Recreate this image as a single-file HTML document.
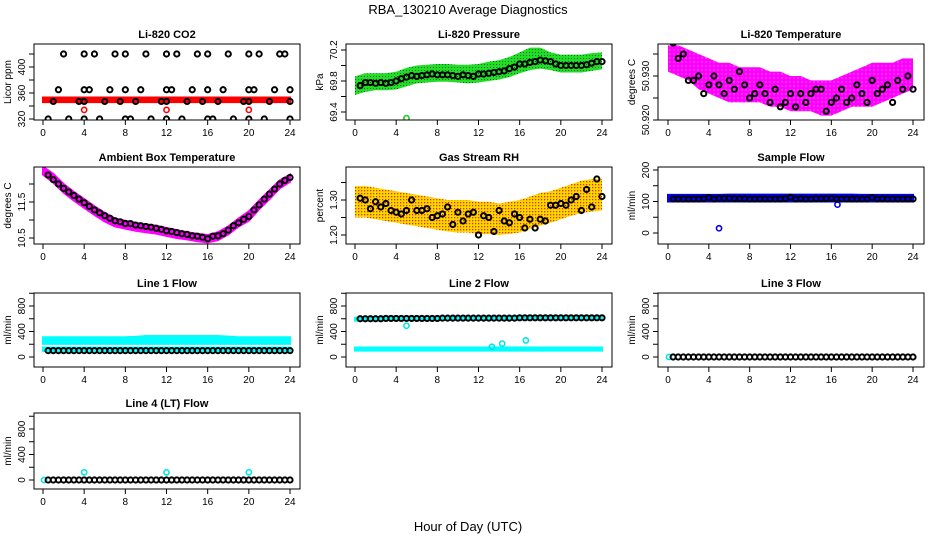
<!DOCTYPE html>
<html><head><meta charset="utf-8"><style>
html,body{margin:0;padding:0;background:#fff}
svg{display:block;font-family:"Liberation Sans",sans-serif}
</style></head><body>
<svg id="c" width="936" height="540" viewBox="0 0 936 540" xmlns="http://www.w3.org/2000/svg">
<defs>
<pattern id="pg" width="3" height="3" patternUnits="userSpaceOnUse"><rect width="3" height="3" fill="#22dd22"/><rect x="1" y="1" width="1" height="1" fill="#063"/></pattern>
<pattern id="po" width="3" height="3" patternUnits="userSpaceOnUse"><rect width="3" height="3" fill="#ffd800"/><rect x="1" y="1" width="1.3" height="1.3" fill="#e03000"/></pattern>
<pattern id="pm" width="4" height="4" patternUnits="userSpaceOnUse"><rect width="4" height="4" fill="#ff00ff"/><rect x="1.5" y="1.5" width="1" height="1" fill="#ffb0ff"/></pattern>
</defs>
<text x="468" y="14" text-anchor="middle" font-size="13">RBA_130210  Average Diagnostics</text>
<text x="468" y="531" text-anchor="middle" font-size="13">Hour of Day (UTC)</text>
</svg>
<script>
const hours=[0.5,1,1.5,2,2.5,3,3.5,4,4.5,5,5.5,6,6.5,7,7.5,8,8.5,9,9.5,10,10.5,11,11.5,12,12.5,13,13.5,14,14.5,15,15.5,16,16.5,17,17.5,18,18.5,19,19.5,20,20.5,21,21.5,22,22.5,23,23.5,24];
const bandHours=[0,1,2,3,4,5,6,7,8,9,10,11,12,13,14,15,16,17,18,19,20,21,22,23,24];
const xTicks=[0,4,8,12,16,20,24];
// CO2
const co2Hours=[2,4,5,7,8,10,12,13,15,16,18,20,21,23,23.5, 1.5,4,4.5,6.5,8,9.5,12,12.5,14.5,16,17.5,20,20.5,22.5,24, 0.5,2.5,4,5.5,8,8.5,10.5,12,13.5,16,16.5,18.5,20,21.5,24, 1,3.5,4,6,7.5,9,11.5,12,14,15.5,17,19.5,20,22,24];
const co2Vals=[420,420,420,420,420,420,420,420,420,420,420,420,420,420,420, 365,365,365,365,365,365,365,365,365,365,365,365,365,365,365, 320,320,320,320,320,320,320,320,320,320,320,320,320,320,320, 347,347,347,347,347,347,347,347,347,347,347,347,347,347,347];
const co2BandLow=[346,346,346,346,346,346,346,346,346,346,346,346,346,346,346,346,346,346,346,346,346,346,346,346,346];
const co2BandHigh=[353,353,353,353,353,353,353,353,353,353,353,353,353,353,353,353,353,353,353,353,353,353,353,353,353];
const co2RedHours=[4,12,20];
const co2RedVals=[334,334,334];
// Pressure
const presVals=[69.74,69.78,69.78,69.77,69.78,69.77,69.78,69.80,69.83,69.85,69.87,69.86,69.87,69.88,69.89,69.88,69.88,69.88,69.87,69.86,69.88,69.87,69.86,69.89,69.89,69.90,69.91,69.92,69.93,69.96,69.98,70.02,70.02,70.04,70.05,70.07,70.06,70.05,70.02,70.00,70.00,70.00,70.00,70.00,70.01,70.03,70.05,70.05];
const presLow=[69.62,69.66,69.68,69.68,69.69,69.73,69.77,69.78,69.79,69.79,69.78,69.77,69.78,69.80,69.82,69.85,69.90,69.94,69.96,69.94,69.91,69.91,69.91,69.93,69.95];
const presHigh=[69.86,69.90,69.90,69.90,69.92,69.97,70.00,70.01,70.02,70.02,70.01,70.01,70.02,70.05,70.07,70.11,70.17,70.23,70.23,70.17,70.14,70.14,70.14,70.16,70.17];
const presOutHours=[5];
const presOutVals=[69.32];
// Li-820 temperature
const tempVals=[50.9375,50.934,50.935,50.929,50.929,50.930,50.926,50.928,50.930,50.928,50.926,50.929,50.927,50.931,50.928,50.925,50.926,50.928,50.926,50.924,50.927,50.923,50.924,50.926,50.923,50.926,50.924,50.926,50.927,50.927,50.922,50.924,50.925,50.927,50.924,50.925,50.928,50.926,50.924,50.929,50.926,50.927,50.928,50.924,50.929,50.927,50.930,50.927];
const tempLow=[50.931,50.930,50.929,50.927,50.926,50.925,50.924,50.924,50.924,50.924,50.923,50.923,50.922,50.922,50.922,50.921,50.921,50.922,50.923,50.923,50.923,50.924,50.925,50.926,50.927];
const tempHigh=[50.937,50.937,50.936,50.935,50.934,50.933,50.933,50.932,50.932,50.932,50.931,50.931,50.930,50.930,50.929,50.929,50.929,50.930,50.931,50.932,50.933,50.933,50.933,50.934,50.934];
// Ambient box temperature
const ambVals=[12.25,12.12,12.0,11.88,11.78,11.68,11.58,11.48,11.38,11.28,11.2,11.12,11.05,10.98,10.95,10.9,10.9,10.86,10.84,10.82,10.8,10.77,10.74,10.7,10.68,10.65,10.62,10.6,10.56,10.55,10.52,10.48,10.55,10.56,10.62,10.72,10.84,10.92,11.02,11.1,11.28,11.42,11.58,11.72,11.86,12.0,12.1,12.18];
const ambLow=[12.26,12.04,11.76,11.54,11.34,11.14,10.96,10.82,10.76,10.70,10.66,10.62,10.56,10.50,10.46,10.41,10.38,10.44,10.60,10.82,10.98,11.30,11.58,11.88,12.06];
const ambHigh=[12.48,12.28,12.00,11.78,11.58,11.38,11.20,11.04,10.98,10.92,10.88,10.84,10.78,10.72,10.66,10.62,10.58,10.66,10.82,11.04,11.24,11.54,11.82,12.10,12.26];
// Gas stream RH
const rhVals=[1.305,1.300,1.275,1.295,1.280,1.290,1.270,1.265,1.260,1.270,1.300,1.270,1.270,1.275,1.250,1.255,1.260,1.280,1.230,1.265,1.240,1.260,1.265,1.200,1.255,1.250,1.210,1.270,1.240,1.235,1.260,1.250,1.220,1.245,1.220,1.245,1.240,1.285,1.285,1.290,1.285,1.300,1.310,1.270,1.330,1.280,1.360,1.310];
const rhLow=[1.250,1.250,1.245,1.240,1.235,1.230,1.225,1.220,1.215,1.210,1.207,1.207,1.203,1.203,1.200,1.203,1.207,1.217,1.227,1.235,1.245,1.255,1.263,1.267,1.270];
const rhHigh=[1.340,1.340,1.335,1.330,1.325,1.320,1.315,1.310,1.305,1.300,1.300,1.300,1.295,1.295,1.290,1.295,1.300,1.310,1.320,1.325,1.335,1.345,1.355,1.360,1.360];
// Sample flow
const sampVals=[108,108,108,108,108,108,109,112,108,110,110,110,109,109,109,108,108,108,108,108,108,108,109,113,108,109,108,108,109,109,109,110,108,108,108,108,108,108,108,112,108,109,108,108,108,108,108,108];
const sampLow=[100,100,100,100,100,100,100,100,100,100,100,100,100,100,100,100,100,100,100,100,100,100,100,100,100];
const sampHigh=[121,121,121,121,121,121,122,122,122,122,122,122,122,122,122,122,122,122,122,121,121,121,121,121,121];
const sampOutHours=[5,16.6];
const sampOutVals=[15,90];
// Line 1
const l1Vals=[100,100,100,100,100,100,100,100,100,100,100,100,100,100,100,100,100,100,100,100,100,100,100,100,100,100,100,100,100,100,100,100,100,100,100,100,100,100,100,100,100,100,100,100,100,100,100,100];
const l1HiLow=[205,205,205,205,205,205,205,205,205,205,205,205,205,205,205,205,205,205,205,205,205,205,205,205,205];
const l1HiHigh=[310,310,310,310,310,310,310,310,310,315,330,330,330,330,330,330,330,330,320,310,310,310,310,310,310];
const l1LoLow=[95,95,95,95,95,95,95,95,95,95,95,95,95,95,95,95,95,95,95,95,95,95,95,95,95];
const l1LoHigh=[150,150,150,150,150,150,150,150,150,150,150,150,150,150,150,150,150,150,150,150,150,150,150,150,150];
// Line 2
const l2Vals=[600,600,600,600,600,605,605,605,605,605,605,605,605,605,605,605,610,610,610,610,610,610,610,610,610,610,610,610,610,610,610,615,615,615,615,615,615,615,615,615,615,615,615,615,615,615,615,615];
const l2HiLow=[570,575,580,580,580,585,585,585,585,585,590,590,590,590,590,590,595,595,595,595,595,595,595,595,595];
const l2HiHigh=[615,620,625,625,625,630,630,630,630,630,635,635,635,635,635,640,640,640,640,640,640,640,640,640,640];
const l2LoLow=[100,100,100,100,100,100,100,100,100,100,100,100,100,100,100,100,100,100,100,100,100,100,100,100,100];
const l2LoHigh=[150,150,150,150,150,150,150,150,150,150,150,150,150,150,150,150,150,150,150,150,150,150,150,150,150];
const l2OutHours=[5,13.3,14.3,16.6];
const l2OutVals=[490,160,210,260];
// Line 3 & 4
const l3Vals=[0,0,0,0,0,0,0,0,0,0,0,0,0,0,0,0,0,0,0,0,0,0,0,0,0,0,0,0,0,0,0,0,0,0,0,0,0,0,0,0,0,0,0,0,0,0,0,0];
const l4Vals=[0,0,0,0,0,0,0,0,0,0,0,0,0,0,0,0,0,0,0,0,0,0,0,0,0,0,0,0,0,0,0,0,0,0,0,0,0,0,0,0,0,0,0,0,0,0,0,0];
const l4OutHours=[4,12,20];
const l4OutVals=[120,120,120];

const NS='http://www.w3.org/2000/svg';
const svg=document.getElementById('c');
const colL=[34,346,658],colR=[300,612,924],colX0=[43,355,668],colX24=[290,602,913];
const rowT=[44,167,293,413],rowB=[120,244,367,489];
function mk(tag,attrs,parent){const e=document.createElementNS(NS,tag);for(const k in attrs)e.setAttribute(k,attrs[k]);(parent||svg).appendChild(e);return e;}

function panel(o){
  const g=mk('g',{});
  
  
  const L=colL[o.c],R=colR[o.c],T=rowT[o.r],B=rowB[o.r];
  const xs=h=>colX0[o.c]+(colX24[o.c]-colX0[o.c])*h/24;
  const ys=v=>o.p1+(v-o.v1)*(o.p2-o.p1)/(o.v2-o.v1);
  const clipId='clip'+o.r+o.c;
  const cp=mk('clipPath',{id:clipId},g);mk('rect',{x:L,y:T,width:R-L,height:B-T},cp);
  const plot=mk('g',{'clip-path':'url(#'+clipId+')'},g);
  
  
  const t=mk('text',{x:(L+R)/2,y:T-6,'text-anchor':'middle','font-size':11,'font-weight':'bold'},g);
  t.textContent=o.title;
  
  
  const box=mk('rect',{x:L,y:T,width:R-L,height:B-T,fill:'none',stroke:'#000','stroke-width':1},g);
  
  
  xTicks.forEach(h=>{
    mk('line',{x1:xs(h),x2:xs(h),y1:B,y2:B+5,stroke:'#000'},g);
    const tl=mk('text',{x:xs(h),y:B+16,'text-anchor':'middle','font-size':10},g);
    tl.textContent=h;
    
    
  });
  o.yticks.forEach(v=>{
    const y=ys(v);
    mk('line',{x1:L-5,x2:L,y1:y,y2:y,stroke:'#000'},g);
  });
  o.ylabels.forEach(v=>{
    const y=ys(v);
    const tl=mk('text',{x:L-9,y:y,'text-anchor':'middle','font-size':10,transform:'rotate(-90 '+(L-9)+' '+y+')'},g);
    tl.textContent=(o.fmt?o.fmt(v):v);
    
    
  });
  const yl=mk('text',{x:L-23,y:(T+B)/2,'text-anchor':'middle','font-size':10,transform:'rotate(-90 '+(L-23)+' '+((T+B)/2)+')'},g);
  yl.textContent=o.ylab;
  
  
  return {xs,ys,plot};
}
function band(P,hs,lo,hi,fill,name){
  let d='';
  hs.forEach((h,i)=>{d+=(i?'L':'M')+P.xs(h)+' '+P.ys(hi[i]);});
  for(let i=hs.length-1;i>=0;i--)d+='L'+P.xs(hs[i])+' '+P.ys(lo[i]);
  const p=mk('path',{d:d+'Z',fill:fill,stroke:fill.startsWith('url')?'none':fill,'stroke-width':2},P.plot);
  
  
}
function pts(P,hs,vs,color,name,r){
  const n=Math.min(hs.length,vs.length);
  for(let i=0;i<n;i++){
    const c=mk('circle',{cx:P.xs(hs[i]),cy:P.ys(vs[i]),r:r||2.6,fill:'none',stroke:color,'stroke-width':color==='#000'?2:1.6},P.plot);
    
    
  }
}
const f3=v=>v.toFixed(3), f1=v=>v.toFixed(1), f2=v=>v.toFixed(2);

let P=panel({name:'panel-co2',r:0,c:0,title:'Li-820 CO2',ylab:'Licor ppm',v1:320,p1:119,v2:400,p2:67,yticks:[320,340,360,380,400,420],ylabels:[320,360,400]});
band(P,bandHours,co2BandLow,co2BandHigh,'#ff0000','co2-band');
pts(P,co2RedHours,co2RedVals,'#ff0000','co2-red-point');
pts(P,co2Hours,co2Vals,'#000','co2-point');

P=panel({name:'panel-pressure',r:0,c:1,title:'Li-820 Pressure',ylab:'kPa',v1:69.4,p1:112,v2:70.2,p2:50,yticks:[69.4,69.6,69.8,70.0,70.2],ylabels:[69.4,69.8,70.2],fmt:f1});
band(P,bandHours,presLow,presHigh,'url(#pg)','pressure-band');
pts(P,presOutHours,presOutVals,'#22cc22','pressure-outlier');
pts(P,hours,presVals,'#000','pressure-point');

P=panel({name:'panel-li820-temperature',r:0,c:2,title:'Li-820 Temperature',ylab:'degrees C',v1:50.920,p1:120,v2:50.930,p2:76,yticks:[50.920,50.925,50.930,50.935],ylabels:[50.920,50.930],fmt:f3});
band(P,bandHours,tempLow,tempHigh,'url(#pm)','temperature-band');
pts(P,hours,tempVals,'#000','temperature-point');

P=panel({name:'panel-ambient-temperature',r:1,c:0,title:'Ambient Box Temperature',ylab:'degrees C',v1:10.5,p1:238,v2:11.5,p2:202,yticks:[10.5,11.0,11.5,12.0],ylabels:[10.5,11.5],fmt:f1});
band(P,bandHours,ambLow,ambHigh,'#ff00ff','ambient-band');
pts(P,hours,ambVals,'#000','ambient-point');

P=panel({name:'panel-gas-rh',r:1,c:1,title:'Gas Stream RH',ylab:'percent',v1:1.20,p1:235,v2:1.30,p2:200,yticks:[1.20,1.25,1.30,1.35],ylabels:[1.20,1.30],fmt:f2});
band(P,bandHours,rhLow,rhHigh,'url(#po)','rh-band');
pts(P,hours,rhVals,'#000','rh-point');

P=panel({name:'panel-sample-flow',r:1,c:2,title:'Sample Flow',ylab:'ml/min',v1:0,p1:233,v2:200,p2:170,yticks:[0,50,100,150,200],ylabels:[0,100,200]});
band(P,bandHours,sampLow,sampHigh,'#0000ee','sample-band');
pts(P,sampOutHours,sampOutVals,'#0000ee','sample-outlier');
pts(P,hours,sampVals,'#000','sample-point');

P=panel({name:'panel-line1-flow',r:2,c:0,title:'Line 1 Flow',ylab:'ml/min',v1:0,p1:357,v2:800,p2:306,yticks:[0,200,400,600,800,1000],ylabels:[0,400,800]});
band(P,bandHours,l1HiLow,l1HiHigh,'#00ffff','line1-high-band');
band(P,bandHours,l1LoLow,l1LoHigh,'#00ffff','line1-low-band');
pts(P,hours,l1Vals,'#000','line1-point');

P=panel({name:'panel-line2-flow',r:2,c:1,title:'Line 2 Flow',ylab:'ml/min',v1:0,p1:357,v2:800,p2:306,yticks:[0,200,400,600,800,1000],ylabels:[0,400,800]});
band(P,bandHours,l2HiLow,l2HiHigh,'#00ffff','line2-high-band');
band(P,bandHours,l2LoLow,l2LoHigh,'#00ffff','line2-low-band');
pts(P,l2OutHours,l2OutVals,'#00e5e5','line2-outlier');
pts(P,hours,l2Vals,'#000','line2-point');

P=panel({name:'panel-line3-flow',r:2,c:2,title:'Line 3 Flow',ylab:'ml/min',v1:0,p1:357,v2:800,p2:306,yticks:[0,200,400,600,800,1000],ylabels:[0,400,800]});
pts(P,[0.1],[0],'#00e5e5','line3-cyan-point');
pts(P,hours,l3Vals,'#000','line3-point');

P=panel({name:'panel-line4-flow',r:3,c:0,title:'Line 4 (LT) Flow',ylab:'ml/min',v1:0,p1:480,v2:800,p2:429,yticks:[0,200,400,600,800,1000],ylabels:[0,400,800]});
pts(P,[0.1],[0],'#00e5e5','line4-cyan-point');
pts(P,l4OutHours,l4OutVals,'#00e5e5','line4-outlier');
pts(P,hours,l4Vals,'#000','line4-point');
</script>
</body></html>
